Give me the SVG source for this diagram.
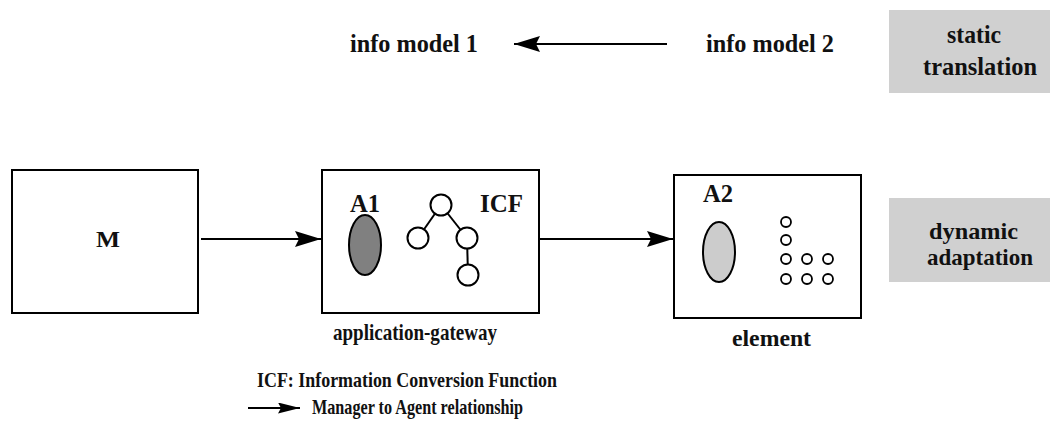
<svg xmlns="http://www.w3.org/2000/svg" width="1050" height="423" viewBox="0 0 1050 423">
  <style>
    .box { fill: #ffffff; stroke: #000000; stroke-width: 2; }
    .band { fill: #d0d0d0; stroke: none; }
    .t { font-family: "Liberation Serif", "Times New Roman", serif; font-weight: bold; fill: #111111; }
    .lg { font-size: 26px; }
    .md { font-size: 24px; }
    .sm { font-size: 21px; }
    .wire { stroke: #000000; stroke-width: 2; fill: none; }
    .node { fill: #ffffff; stroke: #000000; stroke-width: 2; }
    .dot { fill: #ffffff; stroke: #000000; stroke-width: 1.8; }
  </style>
  <defs>
    <marker id="head" markerUnits="userSpaceOnUse" markerWidth="26" markerHeight="18" refX="26" refY="8" orient="auto">
      <path d="M0,0 L26,8 L0,16 L4,8 Z" fill="#000000"/>
    </marker>
    <marker id="headSmall" markerUnits="userSpaceOnUse" markerWidth="22" markerHeight="12" refX="22" refY="5.5" orient="auto">
      <path d="M0,0 L22,5.5 L0,11 L3,5.5 Z" fill="#000000"/>
    </marker>
  </defs>

  <!-- translation labels on the right -->
  <g id="static-translation">
    <rect class="band" x="889" y="10" width="161" height="83"/>
    <text class="t lg" x="947" y="43" textLength="54" lengthAdjust="spacingAndGlyphs">static</text>
    <text class="t lg" x="923" y="75" textLength="114" lengthAdjust="spacingAndGlyphs">translation</text>
  </g>
  <g id="dynamic-adaptation">
    <rect class="band" x="889" y="198" width="161" height="84"/>
    <text class="t md" x="929" y="239" textLength="89" lengthAdjust="spacingAndGlyphs">dynamic</text>
    <text class="t md" x="927" y="265" textLength="106" lengthAdjust="spacingAndGlyphs">adaptation</text>
  </g>

  <!-- information models -->
  <g id="info-model-1">
    <text class="t lg" x="350" y="52" textLength="128" lengthAdjust="spacingAndGlyphs">info model 1</text>
  </g>
  <g id="info-model-2">
    <text class="t lg" x="706" y="52" textLength="128" lengthAdjust="spacingAndGlyphs">info model 2</text>
  </g>

  <!-- manager -->
  <g id="manager">
    <rect class="box" x="12" y="170" width="186" height="143"/>
    <text class="t md" x="96" y="247" textLength="24" lengthAdjust="spacingAndGlyphs">M</text>
  </g>

  <!-- application gateway with agent A1 and the ICF tree -->
  <g id="application-gateway">
    <rect class="box" x="322" y="170" width="217" height="143"/>
    <text class="t lg" x="350" y="212" textLength="30" lengthAdjust="spacingAndGlyphs">A1</text>
    <ellipse cx="365" cy="245" rx="16" ry="30" fill="#808080" stroke="#000000" stroke-width="2"/>
    <line class="wire" x1="441" y1="205" x2="418" y2="238"/>
    <line class="wire" x1="441" y1="205" x2="467" y2="238"/>
    <line class="wire" x1="467" y1="238" x2="468" y2="275"/>
    <circle class="node" cx="441" cy="205" r="10.5"/>
    <circle class="node" cx="418" cy="238" r="10.5"/>
    <circle class="node" cx="467" cy="238" r="10.5"/>
    <circle class="node" cx="468" cy="275" r="10.5"/>
    <text class="t lg" x="480" y="212" textLength="43" lengthAdjust="spacingAndGlyphs">ICF</text>
    <text class="t md" x="333" y="340" textLength="164" lengthAdjust="spacingAndGlyphs">application-gateway</text>
  </g>

  <!-- managed element with agent A2 and its objects -->
  <g id="element">
    <rect class="box" x="674" y="175" width="187" height="143"/>
    <text class="t lg" x="703" y="202" textLength="30" lengthAdjust="spacingAndGlyphs">A2</text>
    <ellipse cx="719" cy="252" rx="16" ry="30" fill="#cccccc" stroke="#000000" stroke-width="2"/>
    <circle class="dot" cx="786" cy="222" r="5"/>
    <circle class="dot" cx="786" cy="240" r="5"/>
    <circle class="dot" cx="786" cy="259" r="5"/>
    <circle class="dot" cx="807" cy="259" r="5"/>
    <circle class="dot" cx="828" cy="259" r="5"/>
    <circle class="dot" cx="786" cy="279" r="5"/>
    <circle class="dot" cx="807" cy="279" r="5"/>
    <circle class="dot" cx="828" cy="279" r="5"/>
    <text class="t md" x="732" y="346" textLength="79" lengthAdjust="spacingAndGlyphs">element</text>
  </g>

  <!-- legend -->
  <g id="legend">
    <text class="t sm" x="257" y="387" textLength="300" lengthAdjust="spacingAndGlyphs">ICF: Information Conversion Function</text>
    <line class="wire" x1="248" y1="408" x2="300" y2="408" marker-end="url(#headSmall)"/>
    <text class="t sm" x="312" y="414" textLength="211" lengthAdjust="spacingAndGlyphs">Manager to Agent relationship</text>
  </g>

  <!-- connectors -->
  <g id="connectors">
    <line class="wire" x1="667" y1="44" x2="514" y2="44" marker-end="url(#head)"/>
    <line class="wire" x1="201" y1="239" x2="321" y2="239" marker-end="url(#head)"/>
    <line class="wire" x1="540" y1="239" x2="673" y2="239" marker-end="url(#head)"/>
  </g>
</svg>
